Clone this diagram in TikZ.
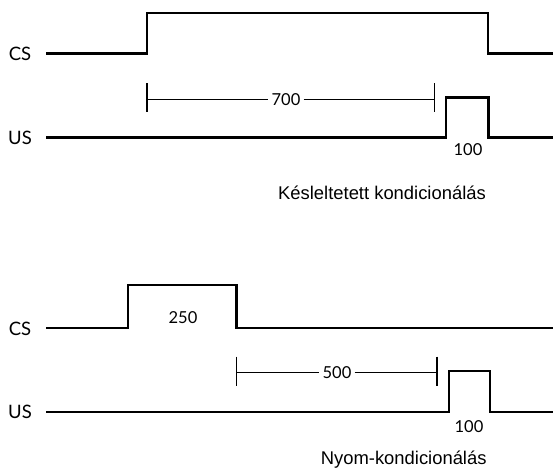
\documentclass[tikz,border=0pt]{standalone}
\usepackage{fontspec}
\setmainfont{Liberation Sans}
\newfontfamily\gill{Lato}
\begin{document}
\begin{tikzpicture}[x=1pt,y=-1pt,
  wave/.style={line width=2.1pt, line join=miter},
  dimline/.style={line width=1.3pt},
  sig/.style={font=\gill\fontsize{18.5}{20}\selectfont, anchor=base, inner sep=0pt},
  num/.style={font=\gill\fontsize{16.5}{20}\selectfont, anchor=base, inner sep=0pt},
  dimlabel/.style={font=\gill\fontsize{16.5}{20}\selectfont, fill=white, inner sep=3pt},
  caption/.style={font=\fontsize{18.4}{22}\selectfont, anchor=base, inner sep=0pt}]
\useasboundingbox[fill=white] (0,0) rectangle (553,469);

% ---------- Top: delayed conditioning ----------
\node[sig] (cs1) at (20,60) {CS};
\node[sig] (us1) at (20,144) {US};
\coordinate (cs1s) at (46,53.5);
\coordinate (cs1e) at (553,53.5);
\draw[wave] (cs1s) -- (147,53.5) -- (147,13.3) -- (488,13.3) -- (488,53.5) -- (cs1e);
\coordinate (us1s) at (46,137.5);
\coordinate (us1e) at (553,137.5);
\draw[wave] (us1s) -- (446,137.5) -- (446,97.5) -- (488.5,97.5) -- (488.5,137.5) -- (us1e);

\coordinate (d1a) at (147,99.3);
\coordinate (d1b) at (434.6,99.3);
\draw[dimline] (147,83.3) -- (147,111.7);
\draw[dimline] (434.6,83.3) -- (434.6,111.7);
\node[dimlabel] (l700) at (286,100) {700};
\draw[dimline] (d1a) -- (l700.west |- d1a);
\draw[dimline] (l700.east |- d1b) -- (d1b);
\node[num] (p100a) at (468,155) {100};
\node[caption] (cap1) at (382,199) {Késleltetett kondicionálás};

% ---------- Bottom: trace conditioning ----------
\node[sig] (cs2) at (20,335) {CS};
\node[sig] (us2) at (20,418.5) {US};
\coordinate (cs2s) at (46,328.3);
\coordinate (cs2e) at (553,328.3);
\draw[wave] (cs2s) -- (127.7,328.3) -- (127.7,285) -- (236.5,285) -- (236.5,328.3) -- (cs2e);
\node[num] (l250) at (183,323) {250};
\coordinate (us2s) at (46,411.7);
\coordinate (us2e) at (553,411.7);
\draw[wave] (us2s) -- (448.7,411.7) -- (448.7,370.7) -- (490.3,370.7) -- (490.3,411.7) -- (us2e);

\coordinate (d2a) at (236.5,372.7);
\coordinate (d2b) at (437,372.7);
\draw[dimline] (236.5,356.7) -- (236.5,385.7);
\draw[dimline] (437,356.7) -- (437,385.7);
\node[dimlabel] (l500) at (337,372.5) {500};
\draw[dimline] (d2a) -- (l500.west |- d2a);
\draw[dimline] (l500.east |- d2b) -- (d2b);
\node[num] (p100b) at (469,432.7) {100};
\node[caption] (cap2) at (403.7,464.5) {Nyom-kondicionálás};
\end{tikzpicture}
\end{document}
